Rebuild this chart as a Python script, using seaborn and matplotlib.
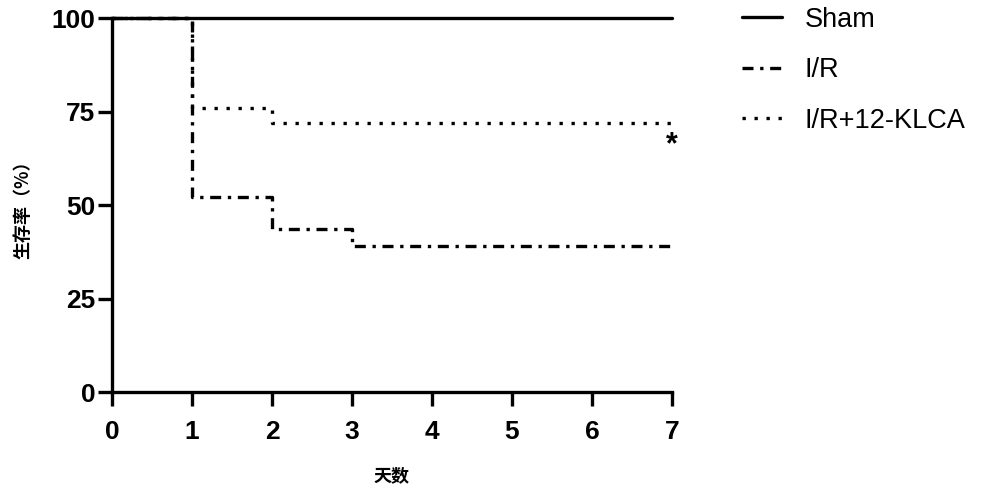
import numpy as np
import pandas as pd
import matplotlib
matplotlib.use('Agg')
import matplotlib.pyplot as plt
import seaborn as sns

# survival data (step function, days vs percent)
days = [0, 1, 2, 3, 7]
sham = [100, 100, 100, 100, 100]
ir = [100, 52.2, 43.5, 39.1, 39.1]
ir_klca = [100, 76, 72, 72, 72]
groups = ['Sham', 'I/R', 'I/R+12-KLCA']

df = pd.DataFrame({
    'day': days * 3,
    'surv': sham + ir + ir_klca,
    'group': [g for g in groups for _ in days],
})

sns.set_style('ticks')
plt.rcParams['font.family'] = ['Noto Sans CJK SC', 'DejaVu Sans']
plt.rcParams['text.color'] = 'black'
plt.rcParams['axes.labelcolor'] = 'black'

fig = plt.figure(figsize=(10, 4.91), dpi=100)
ax = fig.add_axes([0.112, 0.2016, 0.56, 0.7617])

lw = 2.4
styles = {'Sham': '-', 'I/R': (0, (3.3, 2, 1, 2)), 'I/R+12-KLCA': (0, (1, 2.6))}
for g in groups:
    sub = df[df['group'] == g]
    sns.lineplot(data=sub, x='day', y='surv', ax=ax, color='black', lw=lw,
                 drawstyle='steps-post', linestyle=styles[g], label=g, zorder=3)

ax.set_xlim(0, 7)
ax.set_ylim(0, 100)
ax.set_xticks(range(0, 8))
ax.set_yticks([0, 25, 50, 75, 100])
for lab in ax.get_xticklabels() + ax.get_yticklabels():
    lab.set_fontweight('bold')
    lab.set_fontfamily('Liberation Sans')
ax.tick_params(labelsize=19, width=lw, length=10, direction='out',
               color='black', labelcolor='black')
ax.tick_params(axis='x', pad=10)
ax.tick_params(axis='y', pad=2)
sns.despine(ax=ax)
for s in ['left', 'bottom']:
    ax.spines[s].set_linewidth(lw)
    ax.spines[s].set_color('black')
for l in ax.get_lines():
    l.set_clip_on(False)

ax.set_xlabel('天数', fontsize=13, fontweight='bold', labelpad=16)
ax.set_ylabel('生存率（%）', fontsize=13, fontweight='bold', labelpad=14)

ax.text(7, 66, '*', fontsize=22, fontweight='bold', ha='center', va='center',
        family='Liberation Sans')

leg = ax.legend(loc='upper left', bbox_to_anchor=(1.082, 1.095), frameon=False,
                handlelength=1.45, handletextpad=0.85, labelspacing=0.9,
                prop={'family': 'Liberation Sans', 'size': 19.5})

fig.savefig('out.png', dpi=100)
